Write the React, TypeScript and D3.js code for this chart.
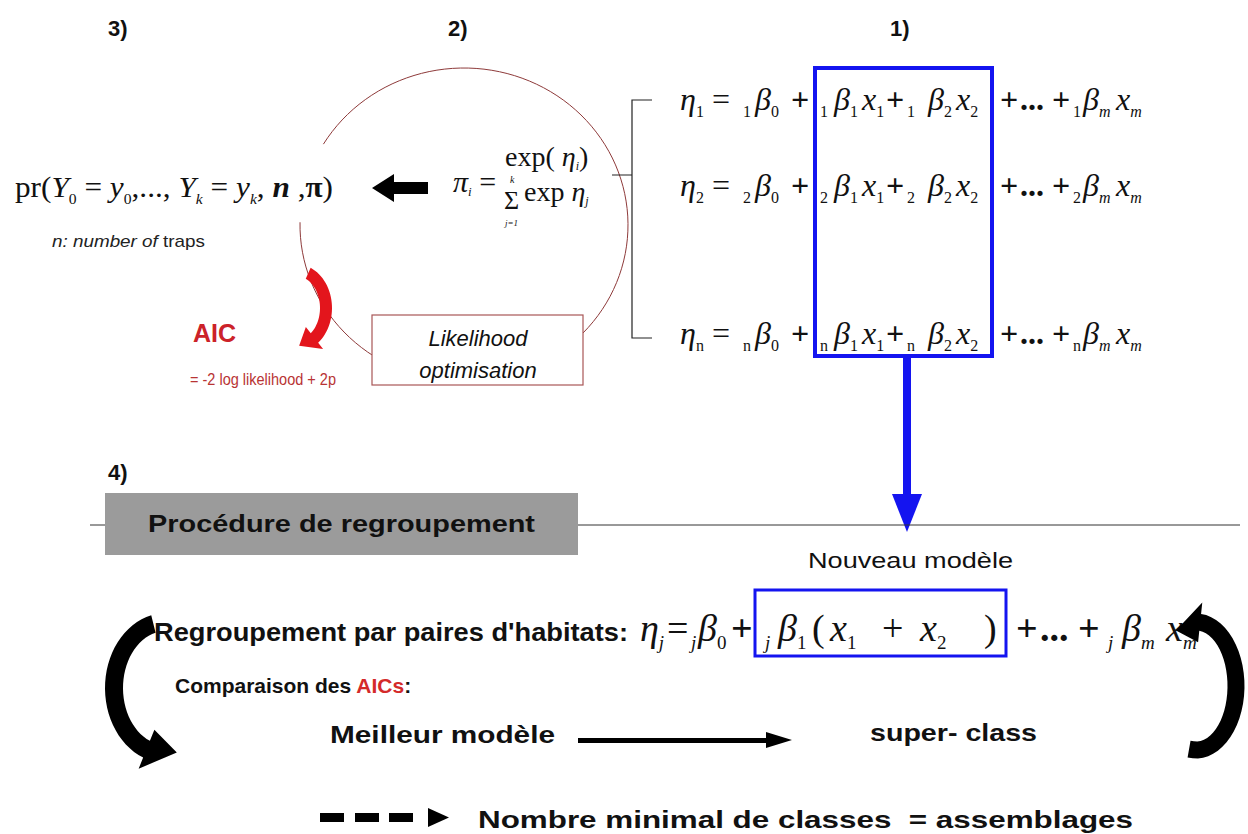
import React from "react";
import * as d3 from "d3";

// ---- text content ----
const stepLabels = ["3)", "2)", "1)", "4)"];
const rowIndices = ["1", "2", "n"];
const betaIndices = ["0", "1", "2", "m"];
const groupIndex = "j";
const likelihoodLines = ["Likelihood", "optimisation"];
const aicLabel = "AIC";
const aicFormula = "= -2 log likelihood + 2p";
const trapsNote = ["n: number of", " traps"];
const groupingTitle = "Procédure de regroupement";
const newModelLabel = "Nouveau modèle";
const pairLabel = "Regroupement par paires d'habitats:";
const compareLabel = ["Comparaison des ", "AICs", ":"];
const bestLabel = "Meilleur modèle";
const superLabel = "super- class";
const minLabel = "Nombre minimal de classes  = assemblages";

// ---- layout ----
const W = 1248;
const H = 834;
const sans = "'Liberation Sans', Arial, sans-serif";
const serif = "'Liberation Serif', 'Times New Roman', serif";
const blue = "#1414f0";
const red = "#e3151c";
const darkRed = "#8e3a3a";

const stepPos = [[108, 36], [448, 36], [890, 36], [108, 480]];
const rowY = [110, 196, 344];

type Tok = { t: string; k?: string; x?: number };

// renders a run of tokens with sub-scripts as tspans
function Formula({ toks, x, y, size, len }: { toks: Tok[]; x: number; y: number; size: number; len?: number }) {
  let shifted = false;
  const off = size * 0.22;
  return (
    <text x={x} y={y} fontFamily={serif} fontSize={size} fill="#111"
      textLength={len} lengthAdjust={len ? "spacingAndGlyphs" : undefined}>
      {toks.map((tk, i) => {
        const isSub = tk.k === "s" || tk.k === "si";
        let dy = 0;
        if (isSub && !shifted) { dy = off; shifted = true; }
        else if (!isSub && shifted) { dy = -off; shifted = false; }
        return (
          <tspan key={i}
            x={tk.x}
            dy={dy || undefined}
            fontSize={isSub ? size * 0.5 : undefined}
            fontStyle={tk.k === "i" || tk.k === "si" || tk.k === "bi" ? "italic" : undefined}
            fontWeight={tk.k === "b" || tk.k === "bi" ? "bold" : undefined}
          >{tk.t}</tspan>
        );
      })}
    </text>
  );
}

const etaRow = (k: string): Tok[] => [
  { t: "η", k: "i", x: 680 }, { t: k, k: "s" },
  { t: "=", x: 712 }, { t: k, k: "s", x: 743 },
  { t: "β", k: "i", x: 755 }, { t: betaIndices[0], k: "s" },
  { t: "+", k: "b", x: 791 },
  { t: k, k: "s", x: 820 }, { t: "β", k: "i", x: 834 }, { t: betaIndices[1], k: "s" }, { t: "x", k: "i", x: 862 }, { t: "1", k: "s" },
  { t: "+", k: "b", x: 886 },
  { t: k, k: "s", x: 907 }, { t: "β", k: "i", x: 928 }, { t: betaIndices[2], k: "s" }, { t: "x", k: "i", x: 956 }, { t: "2", k: "s" },
  { t: "+", k: "b", x: 1000 }, { t: "...", k: "b", x: 1020 }, { t: "+", k: "b", x: 1052 },
  { t: k, k: "s", x: 1073 }, { t: "β", k: "i", x: 1083 }, { t: betaIndices[3], k: "si" },
  { t: "x", k: "i", x: 1116 }, { t: betaIndices[3], k: "si" },
];

const groupRow: Tok[] = [
  { t: "η", k: "i", x: 640 }, { t: groupIndex, k: "si" },
  { t: "=", x: 667 }, { t: groupIndex, k: "si", x: 691 },
  { t: "β", k: "i", x: 698 }, { t: betaIndices[0], k: "s" },
  { t: "+", k: "b", x: 731 },
  { t: groupIndex, k: "si", x: 765 }, { t: "β", k: "i", x: 778 }, { t: betaIndices[1], k: "s" },
  { t: "(", x: 812 }, { t: "x", k: "i", x: 830 }, { t: "1", k: "s" },
  { t: "+", x: 882 }, { t: "x", k: "i", x: 920 }, { t: "2", k: "s" }, { t: ")", x: 984 },
  { t: "+", k: "b", x: 1016 }, { t: "...", k: "b", x: 1040 }, { t: "+", k: "b", x: 1078 },
  { t: groupIndex, k: "si", x: 1108 }, { t: "β", k: "i", x: 1122 }, { t: betaIndices[3], k: "si" },
  { t: "x", k: "i", x: 1166 }, { t: betaIndices[3], k: "si" },
];

const prRow: Tok[] = [
  { t: "pr(", k: "n" }, { t: "Y", k: "i" }, { t: "0", k: "s" }, { t: " = ", k: "n" }, { t: "y", k: "i" }, { t: "0", k: "s" },
  { t: ",..., ", k: "n" }, { t: "Y", k: "i" }, { t: "k", k: "si" }, { t: " = ", k: "n" }, { t: "y", k: "i" }, { t: "k", k: "si" },
  { t: ", ", k: "n" }, { t: "n", k: "bi" }, { t: " ,", k: "n" }, { t: "π", k: "b" }, { t: ")", k: "n" },
];

// thick curved arrow along an ellipse, angles in degrees
function curvedArrow(cx: number, cy: number, rx: number, ry: number, a0: number, a1: number,
  w: number, headLen: number, headW: number) {
  const deg = Math.PI / 180;
  const dir = Math.sign(a1 - a0);
  const pt = (t: number, dr: number): [number, number] =>
    [cx + (rx + dr) * Math.cos(t * deg), cy + (ry + dr) * Math.sin(t * deg)];
  const ts = d3.range(31).map(i => a0 + (a1 - a0) * i / 30);
  const outer = ts.map(t => pt(t, w / 2));
  const inner = ts.map(t => pt(t, -w / 2)).reverse();
  const head = [pt(a1, headW / 2), pt(a1 + dir * headLen, 0), pt(a1, -headW / 2)];
  return d3.line()([...outer, ...head, ...inner]) + "Z";
}

function ellipseArc(cx: number, cy: number, rx: number, ry: number, a0: number, a1: number) {
  const deg = Math.PI / 180;
  const pts = d3.range(121).map(i => {
    const t = (a0 + (a1 - a0) * i / 120) * deg;
    return [cx + rx * Math.cos(t), cy + ry * Math.sin(t)] as [number, number];
  });
  return d3.line()(pts) || "";
}

export default function App() {
  return (
    <svg width={W} height={H} style={{ position: "absolute", left: 0, top: 0, background: "#fff" }}>
      {/* step numbers */}
      {stepLabels.map((s, i) => (
        <text key={s} x={stepPos[i][0]} y={stepPos[i][1]} fontFamily={sans} fontWeight="bold" fontSize={22} fill="#111">{s}</text>
      ))}

      {/* loop circle */}
      <path d={ellipseArc(464, 225, 164, 157, 211, 541)} fill="none" stroke={darkRed} strokeWidth={1} />

      {/* bracket */}
      <path d="M652,100 H632 V338 H652 M612,175 H632" fill="none" stroke="#222" strokeWidth={1.2} />

      {/* model rows */}
      {rowIndices.map((k, i) => (
        <Formula key={k} toks={etaRow(k)} x={680} y={rowY[i]} size={32} />
      ))}
      <rect x={815} y={68} width={177} height={288} fill="none" stroke={blue} strokeWidth={4} />
      <rect x={903} y={356} width={8} height={140} fill={blue} />
      <path d="M892,494 L922,494 L907,532 Z" fill={blue} />

      {/* softmax */}
      <text x={453} y={192} fontFamily={serif} fontSize={30} fontStyle="italic" fill="#111">π<tspan fontSize={13} dy={4}>i</tspan><tspan fontStyle="normal" dy={-4}> =</tspan></text>
      <text x={505} y={166} fontFamily={serif} fontSize={28} fill="#111">exp( <tspan fontStyle="italic">η</tspan><tspan fontSize={12} fontStyle="italic" dy={4}>i</tspan><tspan dy={-4}>)</tspan></text>
      <text x={504} y={209} fontFamily={serif} fontSize={26} fill="#111">Σ<tspan x={510} y={183} fontSize={10} fontStyle="italic">k</tspan><tspan x={505} y={226} fontSize={9} fontStyle="italic">j=1</tspan><tspan x={524} y={201} fontSize={28}>exp </tspan><tspan fontSize={28} fontStyle="italic">η</tspan><tspan fontSize={12} fontStyle="italic" dy={4}>j</tspan></text>

      {/* arrow to likelihood */}
      <path d="M372,188 L394,174 L394,182 L428,182 L428,194 L394,194 L394,202 Z" fill="#000" />

      {/* multinomial */}
      <Formula toks={prRow} x={15} y={197} size={30} len={318} />
      <text x={52} y={247} fontFamily={sans} fontSize={17} textLength={153} lengthAdjust="spacingAndGlyphs" fill="#222">
        <tspan fontStyle="italic">{trapsNote[0]}</tspan>{trapsNote[1]}
      </text>

      {/* AIC */}
      <path d={curvedArrow(296, 308, 30, 38, -66, 52, 12, 32, 28)} fill={red} />
      <text x={193} y={342} fontFamily={sans} fontWeight="bold" fontSize={25} fill="#cc2229">{aicLabel}</text>
      <text x={190} y={385} fontFamily={sans} fontSize={16} textLength={146} lengthAdjust="spacingAndGlyphs" fill="#b83434">{aicFormula}</text>

      <rect x={372} y={315} width={211} height={70} fill="#fff" stroke="#a85656" strokeWidth={1.2} />
      {likelihoodLines.map((l, i) => (
        <text key={l} x={478} y={346 + i * 32} textAnchor="middle" fontFamily={sans} fontStyle="italic" fontSize={22} fill="#111">{l}</text>
      ))}

      {/* grouping section */}
      <line x1={90} x2={1240} y1={525} y2={525} stroke="#333" strokeWidth={1} />
      <rect x={105} y={493} width={473} height={62} fill="#9b9b9b" />
      <text x={148} y={532} fontFamily={sans} fontWeight="bold" fontSize={24} textLength={387} lengthAdjust="spacingAndGlyphs" fill="#111">{groupingTitle}</text>
      <text x={808} y={568} fontFamily={sans} fontSize={22} textLength={205} lengthAdjust="spacingAndGlyphs" fill="#111">{newModelLabel}</text>

      <text x={154} y={641} fontFamily={sans} fontWeight="bold" fontSize={25} textLength={474} lengthAdjust="spacingAndGlyphs" fill="#111">{pairLabel}</text>
      <Formula toks={groupRow} x={640} y={641} size={38} />
      <rect x={755} y={590} width={251} height={66} fill="none" stroke={blue} strokeWidth={3} />

      <text x={175} y={693} fontFamily={sans} fontWeight="bold" fontSize={21} fill="#111" style={{ whiteSpace: "pre" }}>
        {compareLabel[0]}<tspan fill="#d42a2a">{compareLabel[1]}</tspan>{compareLabel[2]}
      </text>

      <text x={330} y={743} fontFamily={sans} fontWeight="bold" fontSize={24} textLength={225} lengthAdjust="spacingAndGlyphs" fill="#111">{bestLabel}</text>
      <path d="M578,738 L766,738 L766,732 L792,740 L766,748 L766,743 L578,743 Z" fill="#000" />
      <text x={870} y={741} fontFamily={sans} fontWeight="bold" fontSize={24} textLength={167} lengthAdjust="spacingAndGlyphs" fill="#111">{superLabel}</text>

      {/* curved loop arrows */}
      <path d={curvedArrow(166, 688, 52, 66, -104, -248, 18, 34, 42)} fill="#000" />
      <path d={curvedArrow(1196, 686, 40, 64, 100, -84, 17, 36, 40)} fill="#000" />

      {/* dashed arrow */}
      {[320, 355, 389].map(x => (
        <rect key={x} x={x} y={813} width={24} height={9} fill="#000" />
      ))}
      <path d="M428,808 L449,817.5 L428,827 Z" fill="#000" />
      <text x={478} y={828} fontFamily={sans} fontWeight="bold" fontSize={24} textLength={655} lengthAdjust="spacingAndGlyphs" fill="#111" style={{ whiteSpace: "pre" }}>{minLabel}</text>
    </svg>
  );
}
